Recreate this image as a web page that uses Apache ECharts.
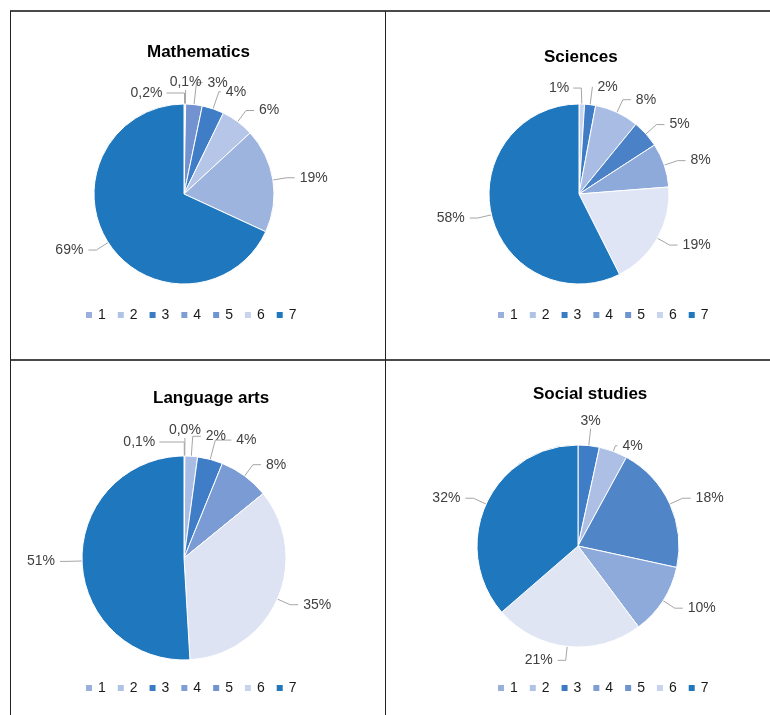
<!DOCTYPE html>
<html>
<head>
<meta charset="utf-8">
<script src="https://cdn.jsdelivr.net/npm/echarts@6/dist/echarts.min.js"></script>
<style>
html, body { margin: 0; padding: 0; background: #fff; }
#chart { width: 770px; height: 715px; }
</style>
</head>
<body>
<div id="chart"></div>
<script>
// legend categories (same for all four pies)
const categories = ['1', '2', '3', '4', '5', '6', '7']

// slice values in %, listed clockwise from 12 o'clock
const mathNames = ['1', '2', '3', '4', '5', '6', '7']
const mathValues = [0.2, 0.1, 3, 4, 6, 19, 69]

const scienceNames = ['1', '2', '3', '4', '5', '6', '7']
const scienceValues = [1, 2, 8, 5, 8, 19, 58]

const languageNames = ['1', '2', '3', '4', '5', '6', '7']
const languageValues = [0.1, 0.04, 2, 4, 8, 35, 51]

// one category has no value here, so only six slices
const socialNames = ['2', '3', '4', '5', '6', '7']
const socialValues = [3, 4, 18, 10, 21, 32]

// colours
const legendColors = ['#9aafdc', '#b0c2e6', '#3a7cc4', '#7e9ed4', '#7094cf', '#c8d3ee', '#1f77be']
const mathColors = ['#c8d3ee', '#8aa6d8', '#7393d0', '#3f7dc6', '#b5c6e8', '#9db4de', '#1f77be']
const scienceColors = ['#c9d5ee', '#3f7cc6', '#a9bde4', '#4b81c7', '#8eaadb', '#dfe5f4', '#1f77be']
const languageColors = ['#9ab0dc', '#b1c3e6', '#a9bde4', '#3f7dc6', '#7a9bd3', '#dde3f3', '#1f77be']
const socialColors = ['#3f7dc6', '#aebfe5', '#5085c8', '#8eaadb', '#dfe5f3', '#1f77be']

// leader line lengths [length, length2] where the default doesn't fit,
// and how the crowded labels near the top are placed ('left' = mirrored, 'top' = above)
const mathLines = [[11, 18], [14, 0], [22, 6], [18, 2]]
const mathModes = ['left', 'top']
const scienceLines = [[16, 8], [18, 0]]
const scienceModes = ['left']
const languageLines = [[14, 25], [18, 0], [20, 8], [20, 16]]
const languageModes = ['left', 'top']
const socialLines = [[17, 0], [6, 2]]
const socialModes = ['top']

const FONT = 'Liberation Sans, Arial, sans-serif'

const chart = echarts.init(document.getElementById('chart'))

// build pie data from names / values / colours
function pieData(names, values, colors, lines) {
  return names.map((n, i) => {
    const item = { name: n, value: values[i], itemStyle: { color: colors[i] } }
    if (lines[i]) item.labelLine = { length: lines[i][0], length2: lines[i][1] }
    return item
  })
}

// 0,2% style for small values, 19% for the rest
function pctLabel(p) {
  const v = p.value
  return (v < 1 ? v.toFixed(1).replace('.', ',') : Math.round(v)) + '%'
}

// move a few labels off the default side, starting from the library's own line points
function labelMover(modes) {
  return function (p) {
    const mode = modes[p.dataIndex]
    const pts = p.labelLinePoints
    if (!mode || !pts) return {}
    const edge = pts[0]
    const bend = pts[1]
    if (mode === 'left') {
      const b = [2 * edge[0] - bend[0], bend[1]]
      const e = [2 * edge[0] - pts[2][0], pts[2][1]]
      return { x: e[0] - 4, y: e[1], align: 'right', verticalAlign: 'middle', labelLinePoints: [edge, b, e] }
    }
    return { x: bend[0], y: bend[1] - 1, align: 'center', verticalAlign: 'bottom', labelLinePoints: [edge, bend, bend] }
  }
}

function pieSeries(name, center, radius, data, modes) {
  return {
    type: 'pie',
    name: name,
    center: center,
    radius: radius,
    startAngle: 90,
    clockwise: true,
    animation: false,
    avoidLabelOverlap: false,
    data: data,
    itemStyle: { borderColor: '#fff', borderWidth: 1 },
    label: {
      show: true,
      position: 'outside',
      formatter: pctLabel,
      fontFamily: FONT,
      fontSize: 14,
      color: '#404040'
    },
    labelLine: {
      show: true,
      length: 14,
      length2: 8,
      lineStyle: { color: '#a6a6a6', width: 1 }
    },
    labelLayout: labelMover(modes),
    emphasis: { scale: false }
  }
}

function legendFor(left, top) {
  return {
    left: left,
    top: top,
    padding: 0,
    orient: 'horizontal',
    icon: 'rect',
    itemWidth: 8,
    itemHeight: 8,
    itemGap: 10,
    selectedMode: false,
    textStyle: { fontFamily: FONT, fontSize: 14, color: '#1a1a1a' },
    data: categories.map((c, i) => ({ name: c, itemStyle: { color: legendColors[i] } }))
  }
}

function titleFor(text, left, top) {
  return {
    text: text,
    left: left,
    top: top,
    padding: 0,
    textStyle: { fontFamily: FONT, fontSize: 17, fontWeight: 'bold', color: '#000' }
  }
}

// table borders around the four cells
const borderH = { stroke: '#4a4a4a', lineWidth: 2 }
const borderV = { stroke: '#222', lineWidth: 1 }

const option = {
  backgroundColor: '#fff',
  title: [
    titleFor('Mathematics', 147, 44),
    titleFor('Sciences', 544, 49),
    titleFor('Language arts', 153, 390),
    titleFor('Social studies', 533, 386)
  ],
  legend: [
    legendFor(84, 308),
    legendFor(496, 308),
    legendFor(84, 681),
    legendFor(496, 681)
  ],
  graphic: [
    { type: 'line', shape: { x1: 10, y1: 11, x2: 770, y2: 11 }, style: borderH, silent: true },
    { type: 'line', shape: { x1: 10, y1: 360, x2: 770, y2: 360 }, style: borderH, silent: true },
    { type: 'line', shape: { x1: 10.5, y1: 11, x2: 10.5, y2: 715 }, style: borderV, silent: true },
    { type: 'line', shape: { x1: 385.5, y1: 11, x2: 385.5, y2: 715 }, style: borderV, silent: true }
  ],
  series: [
    pieSeries('Mathematics', [184, 194], 90, pieData(mathNames, mathValues, mathColors, mathLines), mathModes),
    pieSeries('Sciences', [579, 194], 90, pieData(scienceNames, scienceValues, scienceColors, scienceLines), scienceModes),
    pieSeries('Language arts', [184, 558], 102, pieData(languageNames, languageValues, languageColors, languageLines), languageModes),
    pieSeries('Social studies', [578, 546], 101, pieData(socialNames, socialValues, socialColors, socialLines), socialModes)
  ]
}

chart.setOption(option)
</script>
</body>
</html>
